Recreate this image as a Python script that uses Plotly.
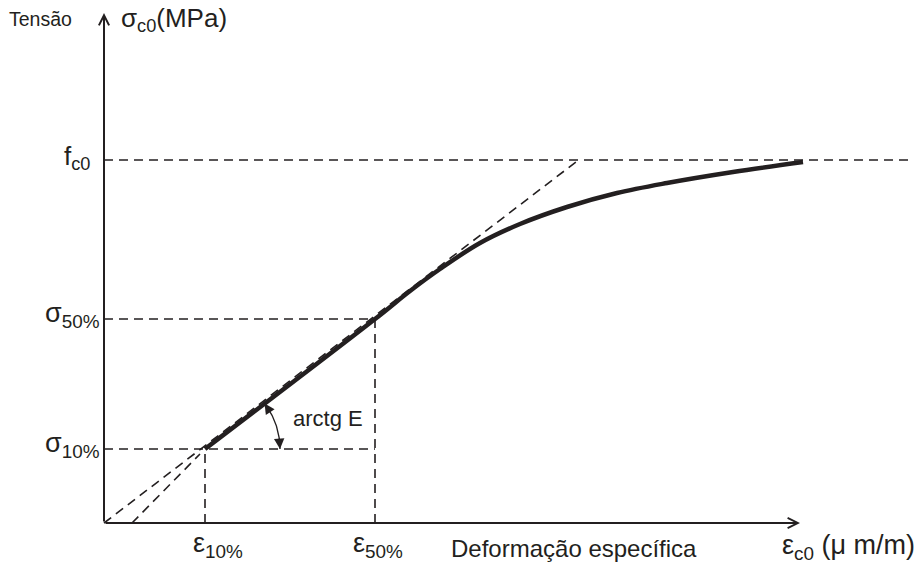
import numpy as np
import plotly.graph_objects as go

# ---- data (schematic units) ----
strain_curve = [101, 271, 306, 336, 376, 416, 463, 513, 563, 629, 699]
stress_curve = [74, 204, 232, 254, 280, 299, 316, 330, 340, 351, 361]

eps10, eps50 = 101, 271
sig10, sig50, fc0 = 74, 204, 363

tangent_x = [0, 472]
tangent_y = [0, 361]
secant2_x = [28, 96]
secant2_y = [0, 69]

x_axis_end = 696
y_axis_end = 510
fc0_line_end = 810
arc_radius = 75

INK = "#231f20"
FONT = "Liberation Sans, Arial, sans-serif"
DASH = "9px,6px"

fig = go.Figure()

def dline(xs, ys, width=1.6):
    fig.add_trace(go.Scatter(x=xs, y=ys, mode="lines",
                             line=dict(color=INK, width=width, dash=DASH),
                             hoverinfo="skip", showlegend=False))

# dashed reference lines
dline([0, fc0_line_end], [fc0, fc0])
dline([0, eps50], [sig50, sig50])
dline([0, eps50], [sig10, sig10])
dline([eps10, eps10], [0, sig10])
dline([eps50, eps50], [0, sig50])
dline(tangent_x, tangent_y)
dline(secant2_x, secant2_y)

# stress-strain curve
fig.add_trace(go.Scatter(x=strain_curve, y=stress_curve, mode="lines",
                         line=dict(color=INK, width=4.5, shape="spline", smoothing=1.0),
                         hoverinfo="skip", showlegend=False))

# angle arc (arctg E)
slope = (sig50 - sig10) / (eps50 - eps10)
theta_end = np.arctan(slope)
th = np.linspace(0.0, theta_end, 40)
fig.add_trace(go.Scatter(x=eps10 + arc_radius * np.cos(th), y=sig10 + arc_radius * np.sin(th),
                         mode="lines", line=dict(color=INK, width=1.3),
                         hoverinfo="skip", showlegend=False))

annotations = []
# arc arrowheads
for t_head, t_tail in [(0.0, 0.16), (theta_end, theta_end - 0.16)]:
    annotations.append(dict(
        x=eps10 + arc_radius * np.cos(t_head), y=sig10 + arc_radius * np.sin(t_head),
        ax=eps10 + arc_radius * np.cos(t_tail), ay=sig10 + arc_radius * np.sin(t_tail),
        xref="x", yref="y", axref="x", ayref="y", text="",
        showarrow=True, arrowhead=2, arrowsize=1.6, arrowwidth=1.3, arrowcolor=INK))

# axes with arrows
annotations.append(dict(x=0, y=y_axis_end, ax=0, ay=0, xref="x", yref="y", axref="x", ayref="y",
                        text="", showarrow=True, arrowhead=5, arrowsize=1.0, arrowwidth=2, arrowcolor=INK))
annotations.append(dict(x=x_axis_end, y=0, ax=0, ay=0, xref="x", yref="y", axref="x", ayref="y",
                        text="", showarrow=True, arrowhead=5, arrowsize=1.0, arrowwidth=2, arrowcolor=INK))

def label(text, x, y, size, xanchor="center", yanchor="middle"):
    annotations.append(dict(x=x, y=y, xref="x", yref="y", text=text, showarrow=False,
                            xanchor=xanchor, yanchor=yanchor,
                            font=dict(family=FONT, size=size, color=INK)))

label("Tensão", -64, 504, 19.5)
label("σ<sub>c0</sub>(MPa)", 15, 504, 26, xanchor="left")
label("f<sub>c0</sub>", -12, fc0 + 3, 26, xanchor="right")
label("σ<sub>50%</sub>", -2, sig50 + 4, 27, xanchor="right")
label("σ<sub>10%</sub>", -2, sig10 + 4, 27, xanchor="right")
label("ε<sub>10%</sub>", eps10 + 13, -22, 27)
label("ε<sub>50%</sub>", eps50 + 3, -22, 27)
label("Deformação específica", 470, -25, 24)
label("ε<sub>c0</sub> (μ m/m)", 813, -24, 27, xanchor="right")
label("arctg E", 224, 105, 22)

fig.update_layout(
    width=920, height=564, autosize=False,
    margin=dict(l=0, r=0, t=0, b=0, pad=0),
    paper_bgcolor="white", plot_bgcolor="white",
    xaxis=dict(range=[-104, 816], visible=False, fixedrange=True),
    yaxis=dict(range=[-41, 523], visible=False, fixedrange=True),
    annotations=annotations,
)
fig.write_html("out.html", config={"displayModeBar": False},
               post_script="document.body.style.margin='0';")
